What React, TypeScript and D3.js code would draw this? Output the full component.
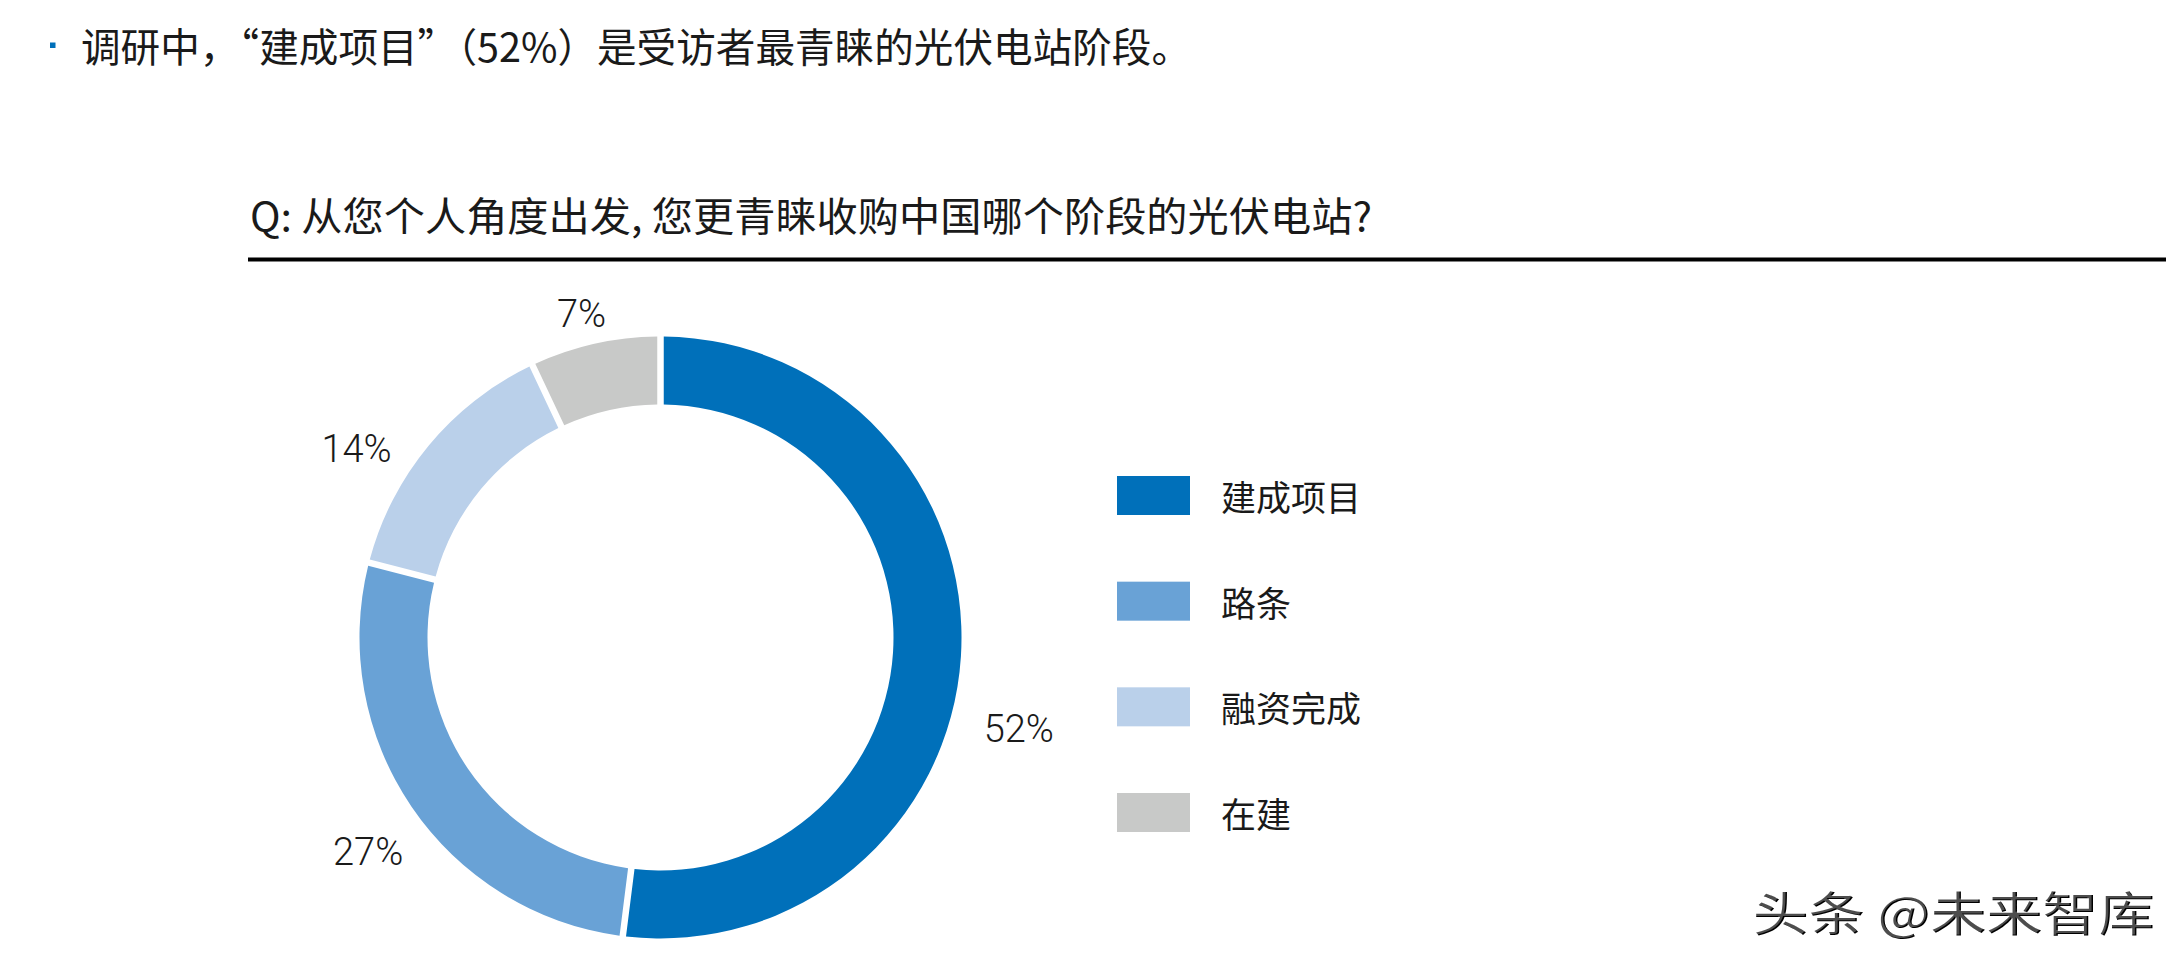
import * as d3 from "d3";

// survey answers: which stage of PV plant investors prefer to buy
const stages = ["建成项目", "路条", "融资完成", "在建"];
const shares = [52, 27, 14, 7];
const stageColors = ["#0070BA", "#69A2D6", "#BAD0EA", "#C8C9C8"];

const headline = "调研中，“建成项目”（52%）是受访者最青睐的光伏电站阶段。";
const question = "Q: 从您个人角度出发, 您更青睐收购中国哪个阶段的光伏电站?";
const watermark = "头条 @未来智库";

const WIDTH = 2184;
const HEIGHT = 972;
const CX = 660.5;
const CY = 637.5;
const R_OUTER = 301;
const R_INNER = 233;
const LABEL_R = 362;
const GAP = 6.5;
// hand nudges so the % labels sit where the original put them
const LABEL_NUDGE: [number, number][] = [
  [-3, 69],
  [7, 11],
  [-25, 42],
  [0, 30],
];

const CJK = "'Noto Sans CJK SC', 'Noto Sans', sans-serif";
const LATIN = "Roboto, 'Liberation Sans', Arial, sans-serif";
const INK = "#1a1a1a";

export default function App() {
  const rows = stages.map((name, i) => ({ name, value: shares[i], color: stageColors[i] }));
  type Row = (typeof rows)[number];

  const pie = d3
    .pie<Row>()
    .sort(null)
    .value((d) => d.value)
    .startAngle(0)
    .endAngle(2 * Math.PI);
  const arcs = pie(rows);

  const padRadius = Math.sqrt(R_INNER * R_INNER + R_OUTER * R_OUTER);
  const arc = d3
    .arc<d3.PieArcDatum<Row>>()
    .innerRadius(R_INNER)
    .outerRadius(R_OUTER)
    .padRadius(padRadius)
    .padAngle(GAP / padRadius);
  const labelArc = d3.arc<d3.PieArcDatum<Row>>().innerRadius(LABEL_R).outerRadius(LABEL_R);

  const legendY = d3.scalePoint<string>().domain(stages).range([476, 793]);

  return (
    <svg
      width={WIDTH}
      height={HEIGHT}
      style={{ position: "absolute", left: 0, top: 0, background: "#fff" }}
    >
      <rect x={50} y={42.5} width={5.5} height={5.5} fill="#0070BA" />
      <text
        x={81}
        y={62}
        fontFamily={CJK}
        fontSize={40}
        fill={INK}
        textLength={1110}
        lengthAdjust="spacingAndGlyphs"
      >
        {headline}
      </text>

      <text
        x={250}
        y={231}
        fontFamily={CJK}
        fontSize={40}
        fill={INK}
        textLength={1122}
        lengthAdjust="spacingAndGlyphs"
      >
        {question}
      </text>
      <line x1={248} x2={2166} y1={259.5} y2={259.5} stroke="#000" strokeWidth={4} />

      <g transform={`translate(${CX},${CY})`}>
        {arcs.map((a) => (
          <path key={a.data.name} d={arc(a) ?? ""} fill={a.data.color} />
        ))}
        {arcs.map((a, i) => {
          const [lx, ly] = labelArc.centroid(a);
          return (
            <text
              key={`l-${a.data.name}`}
              x={lx + LABEL_NUDGE[i][0]}
              y={ly + LABEL_NUDGE[i][1]}
              textAnchor="middle"
              dominantBaseline="central"
              fontFamily={LATIN}
              fontWeight={300}
              fontSize={38}
              fill={INK}
            >
              {`${a.data.value}%`}
            </text>
          );
        })}
      </g>

      <g>
        {rows.map((r) => {
          const y = legendY(r.name) ?? 0;
          return (
            <g key={`lg-${r.name}`}>
              <rect x={1117} y={y} width={73} height={39} fill={r.color} />
              <text
                x={1221}
                y={y + 19.5}
                dominantBaseline="central"
                fontFamily={CJK}
                fontSize={35}
                fill={INK}
              >
                {r.name}
              </text>
            </g>
          );
        })}
      </g>

      <text
        x={1753}
        y={931}
        fontFamily={CJK}
        fontSize={47}
        fill="#000"
        textLength={402}
        lengthAdjust="spacingAndGlyphs"
      >
        {watermark}
      </text>
      <text
        x={1751.5}
        y={929.5}
        fontFamily={CJK}
        fontSize={47}
        fill="#fff"
        fillOpacity={0.3}
        textLength={402}
        lengthAdjust="spacingAndGlyphs"
      >
        {watermark}
      </text>
    </svg>
  );
}
